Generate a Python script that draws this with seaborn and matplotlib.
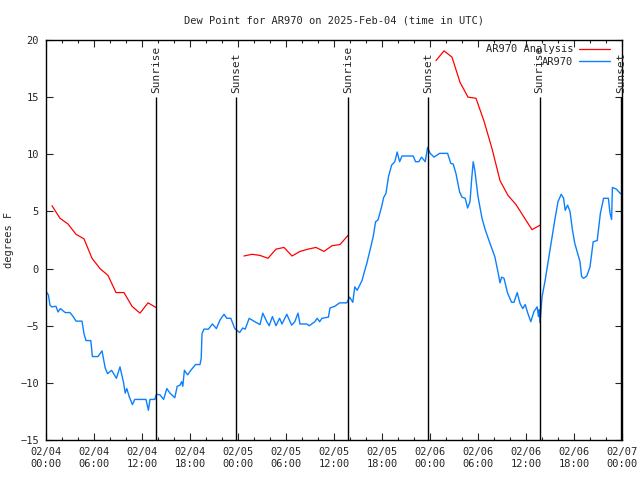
import numpy as np
import pandas as pd
import seaborn as sns
import matplotlib.pyplot as plt
import matplotlib.dates as mdates
from matplotlib.lines import Line2D

# ---- data (hours since 2025-02-04 00:00 UTC, degrees F) ----
obs_hours = [0.0, 0.3, 0.5, 0.7, 1.25, 1.5, 1.8, 2.4, 3.0, 3.4, 3.75, 4.5, 4.75, 5.0, 5.6,
             5.8, 6.5, 7.0, 7.4, 7.7, 8.2, 8.8, 9.25, 9.7, 9.9, 10.1, 10.4, 10.8, 11.1, 12.5,
             12.8, 13.0, 13.6, 13.8, 14.25, 14.7, 15.1, 15.5, 16.1, 16.4, 16.75, 16.95, 17.1,
             17.3, 17.7, 18.1, 18.7, 19.25, 19.4, 19.5, 19.75, 20.3, 20.8, 21.3, 21.75, 22.25,
             22.6, 23.1, 23.6, 24.2, 24.6, 24.9, 25.4, 26.1, 26.75, 27.1, 27.6, 27.9, 28.3,
             28.75, 29.2, 29.5, 30.1, 30.7, 31.1, 31.5, 31.75, 32.6, 32.9, 33.6, 33.9, 34.2,
             34.5, 35.3, 35.5, 36.1, 36.7, 37.6, 37.95, 38.35, 38.6, 38.9, 39.5, 39.75, 40.1,
             40.5, 40.9, 41.2, 41.5, 41.95, 42.2, 42.5, 42.8, 43.2, 43.6, 43.9, 44.2, 44.5,
             45.9, 46.2, 46.6, 46.95, 47.4, 47.7, 48.0, 48.5, 49.2, 50.2, 50.6, 50.9, 51.25,
             51.7, 52.0, 52.4, 52.7, 53.0, 53.2, 53.4, 53.6, 54.0, 54.5, 54.9, 55.5, 56.1,
             56.5, 56.75, 56.95, 57.25, 57.7, 58.2, 58.5, 58.9, 59.25, 59.6, 59.9, 60.2, 60.6,
             61.0, 61.4, 61.55, 61.65, 61.75, 62.0, 62.4, 62.8, 63.2, 63.6, 64.0, 64.4, 64.7,
             64.9, 65.2, 65.5, 65.8, 66.1, 66.5, 66.75, 66.95, 67.2, 67.6, 68.0, 68.4, 68.9,
             69.3, 69.7, 70.3, 70.5, 70.7, 70.8, 71.3, 71.75, 72.0]
obs_dewpt = [-2.0, -2.3, -3.2, -3.35, -3.3, -3.8, -3.5, -3.85, -3.85, -4.2, -4.6, -4.6, -5.7,
             -6.3, -6.3, -7.7, -7.7, -7.2, -8.7, -9.2, -8.9, -9.6, -8.6, -10.0, -10.9, -10.5,
             -11.2, -11.9, -11.45, -11.45, -12.4, -11.45, -11.45, -11.0, -11.05, -11.45, -10.5,
             -10.9, -11.3, -10.3, -10.2, -9.9, -10.3, -8.9, -9.3, -8.9, -8.4, -8.4, -7.85, -5.7,
             -5.3, -5.3, -4.85, -5.25, -4.5, -4.0, -4.35, -4.35, -5.25, -5.6, -5.2, -5.3, -4.35,
             -4.65, -4.9, -3.9, -4.65, -5.0, -4.2, -5.0, -4.35, -4.85, -4.0, -4.95, -4.65, -3.9,
             -4.85, -4.85, -5.0, -4.65, -4.35, -4.65, -4.35, -4.25, -3.45, -3.3, -3.0, -3.0,
             -2.5, -2.95, -1.6, -1.9, -1.05, -0.4, 0.45, 1.6, 2.8, 4.1, 4.25, 5.4, 6.2, 6.6,
             8.0, 9.05, 9.35, 10.2, 9.35, 9.85, 9.85, 9.35, 9.35, 9.75, 9.35, 10.6, 10.1, 9.75,
             10.08, 10.08, 9.2, 9.15, 8.3, 6.7, 6.25, 6.15, 5.3, 5.85, 7.75, 9.35, 8.6, 6.3,
             4.4, 3.4, 2.2, 1.05, -0.3, -1.25, -0.75, -0.85, -2.15, -2.95, -2.95, -2.1, -3.05,
             -3.5, -3.15, -3.85, -4.65, -3.75, -3.35, -4.2, -3.6, -4.75, -2.5, -1.0, 0.75, 2.5,
             4.25, 5.85, 6.5, 6.15, 5.1, 5.55, 5.0, 3.4, 2.2, 1.2, 0.6, -0.7, -0.85, -0.65,
             0.15, 2.35, 2.45, 4.85, 6.15, 6.15, 4.85, 4.3, 7.1, 6.95, 6.6, 6.5]

# analysis: three runs of hourly values (00:45 - 13:45 each day)
ana_start = [0.75, 24.75, 48.75]
ana_run1 = [5.5, 4.4, 3.9, 3.0, 2.6, 0.9, 0.0, -0.6, -2.1, -2.1, -3.3, -3.9, -3.0, -3.4]
ana_run2 = [1.1, 1.25, 1.15, 0.9, 1.7, 1.85, 1.1, 1.5, 1.7, 1.85, 1.5, 2.0, 2.1, 2.9]
ana_run3 = [18.2, 19.05, 18.5, 16.3, 15.0, 14.9, 12.9, 10.5, 7.7, 6.4, 5.6, 4.5, 3.4, 3.8]

sun_hours = [13.8, 23.8, 37.75, 47.8, 61.7, 71.9]
sun_labels = ['Sunrise', 'Sunset', 'Sunrise', 'Sunset', 'Sunrise', 'Sunset']

start = pd.Timestamp('2025-02-04 00:00')
to_time = lambda h: start + pd.to_timedelta(np.asarray(h, dtype=float), unit='h')

obs = pd.DataFrame({'time': to_time(obs_hours), 'dewpt': obs_dewpt})
runs = [ana_run1, ana_run2, ana_run3]
ana = pd.concat([pd.DataFrame({'time': to_time(s + np.arange(len(r))), 'dewpt': r, 'run': i})
                 for i, (s, r) in enumerate(zip(ana_start, runs))], ignore_index=True)

RED = '#ff0000'
BLUE = '#0a80ff'

sns.set_style('ticks')
plt.rcParams['font.family'] = ['DejaVu Sans Mono']

fig = plt.figure(figsize=(6.4, 4.8), dpi=100)
ax = fig.add_axes([46 / 640, 40 / 480, 576 / 640, 400 / 480])

sns.lineplot(data=ana, x='time', y='dewpt', units='run', estimator=None,
             color=RED, lw=0.9, legend=False, ax=ax)
sns.lineplot(data=obs, x='time', y='dewpt', color=BLUE, lw=1.0, legend=False, ax=ax)

# sunrise / sunset markers
sun_t = to_time(sun_hours)
ax.vlines(sun_t, -15, 15, color='black', lw=1.0)
for t, lab in zip(sun_t, sun_labels):
    ax.text(t, 15.4, lab, rotation=90, ha='center', va='bottom', fontsize=8)

ax.set_xlim(start, start + pd.Timedelta(hours=72))
ax.set_ylim(-15, 20)
ax.set_yticks(range(-15, 21, 5))
ax.xaxis.set_major_locator(mdates.HourLocator(byhour=[0, 6, 12, 18]))
ax.xaxis.set_major_formatter(mdates.DateFormatter('%m/%d\n%H:%M'))
ax.xaxis.set_minor_locator(mdates.HourLocator(interval=2))
ax.tick_params(which='both', direction='in', top=True, right=True, labelsize=7.5, width=0.8)
ax.tick_params(which='major', length=5, pad=5)
ax.tick_params(which='minor', length=2.5)
for s in ax.spines.values():
    s.set_linewidth(1.0)
    s.set_color('black')

ax.set_xlabel('')
ax.set_ylabel('degrees F', fontsize=7.5)
ax.yaxis.set_label_coords(-32 / 576, 0.5)
ax.set_title('Dew Point for AR970 on 2025-Feb-04 (time in UTC)', fontsize=7.5, pad=12)

handles = [Line2D([], [], color=RED, lw=0.9), Line2D([], [], color=BLUE, lw=1.0)]
ax.legend(handles, ['AR970 Analysis', 'AR970'], loc='upper right',
          bbox_to_anchor=(1 - 8 / 576, 1.0), frameon=False,
          markerfirst=False, fontsize=7.5, handlelength=3.0, handletextpad=0.5,
          labelspacing=0.25, borderaxespad=0.0)

fig.savefig('out.png', dpi=100)
